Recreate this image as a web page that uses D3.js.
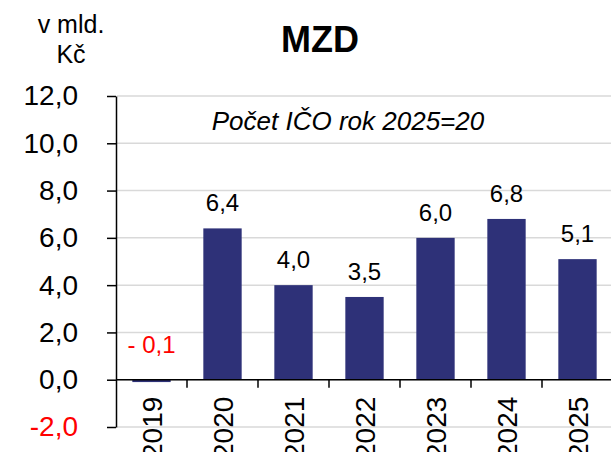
<!DOCTYPE html>
<html lang="cs">
<head>
<meta charset="utf-8">
<title>MZD</title>
<script src="https://d3js.org/d3.v7.min.js"></script>
<style>
  body { margin: 0; background: #fff; }
  text { font-family: "Liberation Sans", Arial, sans-serif; }
  .grid line { stroke: #d9d9d9; stroke-width: 1.5px; }
  .yaxis path, .yaxis line { stroke: #000; stroke-width: 1.5px; }
</style>
</head>
<body>
<div id="chart"></div>
<script>
  // data
  var years = ["2019", "2020", "2021", "2022", "2023", "2024", "2025"];
  var values = [-0.1, 6.4, 4.0, 3.5, 6.0, 6.8, 5.1];
  var yTicks = [-2, 0, 2, 4, 6, 8, 10, 12];

  var width = 611, height = 452;
  var plotLeft = 116, plotRight = 613, plotTop = 96, plotBottom = 427;

  var svg = d3.select("#chart").append("svg")
    .attr("width", width)
    .attr("height", height);

  var x = d3.scaleBand()
    .domain(years)
    .range([plotLeft, plotRight])
    .paddingInner(0.46)
    .paddingOuter(0.23);

  var y = d3.scaleLinear()
    .domain([-2, 12])
    .range([plotBottom, plotTop]);

  // czech decimal comma, plain hyphen for minus
  var fmt = function (v) { return d3.format(".1f")(v).replace(".", ",").replace("\u2212", "-"); };

  // gridlines
  svg.append("g").attr("class", "grid")
    .selectAll("line")
    .data(yTicks)
    .enter().append("line")
    .attr("x1", plotLeft + 1)
    .attr("x2", width)
    .attr("y1", function (d) { return y(d); })
    .attr("y2", function (d) { return y(d); });

  // bars
  var data = years.map(function (d, i) { return { year: d, value: values[i] }; });

  svg.append("g")
    .selectAll("rect")
    .data(data)
    .enter().append("rect")
    .attr("x", function (d) { return x(d.year); })
    .attr("width", x.bandwidth())
    .attr("y", function (d) { return y(Math.max(0, d.value)); })
    .attr("height", function (d) { return Math.abs(y(d.value) - y(0)); })
    .attr("fill", "#2e3178");

  // y axis
  var yAxis = svg.append("g")
    .attr("class", "yaxis")
    .attr("transform", "translate(" + plotLeft + ",0)")
    .call(d3.axisLeft(y).tickValues(yTicks).tickFormat(fmt)
      .tickSize(9).tickSizeOuter(0).tickPadding(29));

  yAxis.selectAll("text")
    .style("font-size", "28px")
    .attr("fill", function (d) { return d < 0 ? "#ff0000" : "#000"; });

  // x axis line at zero + boundary ticks
  svg.append("line")
    .attr("x1", plotLeft).attr("x2", width)
    .attr("y1", y(0)).attr("y2", y(0))
    .attr("stroke", "#000").attr("stroke-width", 1.5);

  svg.append("g")
    .selectAll("line")
    .data(years.slice(0, -1))
    .enter().append("line")
    .attr("x1", function (d) { return x(d) + x.bandwidth() + (x.step() - x.bandwidth()) / 2; })
    .attr("x2", function (d) { return x(d) + x.bandwidth() + (x.step() - x.bandwidth()) / 2; })
    .attr("y1", y(0))
    .attr("y2", y(0) + 8)
    .attr("stroke", "#000").attr("stroke-width", 1.5);

  // year labels, rotated
  svg.append("g")
    .selectAll("text")
    .data(years)
    .enter().append("text")
    .attr("transform", function (d) {
      return "translate(" + (x(d) + x.bandwidth() / 2) + "," + (y(0) + 17) + ") rotate(-90)";
    })
    .attr("dy", "0.36em")
    .attr("text-anchor", "end")
    .style("font-size", "28px")
    .text(function (d) { return d; });

  // value labels
  svg.append("g")
    .selectAll("text")
    .data(data)
    .enter().append("text")
    .attr("x", function (d) { return x(d.year) + x.bandwidth() / 2; })
    .attr("y", function (d) { return d.value < 0 ? y(0) - 27 : y(d.value) - 17; })
    .attr("text-anchor", "middle")
    .style("font-size", "24px")
    .attr("fill", function (d) { return d.value < 0 ? "#ff0000" : "#000"; })
    .text(function (d) { return d.value < 0 ? "- " + fmt(-d.value) : fmt(d.value); });

  // title and units
  svg.append("text")
    .attr("x", 320).attr("y", 52)
    .attr("text-anchor", "middle")
    .style("font-size", "36px").style("font-weight", "bold")
    .text("MZD");

  svg.append("text")
    .attr("x", 71).attr("y", 33)
    .attr("text-anchor", "middle")
    .style("font-size", "25px")
    .text("v mld.");

  svg.append("text")
    .attr("x", 71).attr("y", 63)
    .attr("text-anchor", "middle")
    .style("font-size", "25px")
    .text("Kč");

  svg.append("text")
    .attr("x", 348).attr("y", 130)
    .attr("text-anchor", "middle")
    .style("font-size", "26px").style("font-style", "italic")
    .text("Počet IČO rok 2025=20");
</script>
</body>
</html>
